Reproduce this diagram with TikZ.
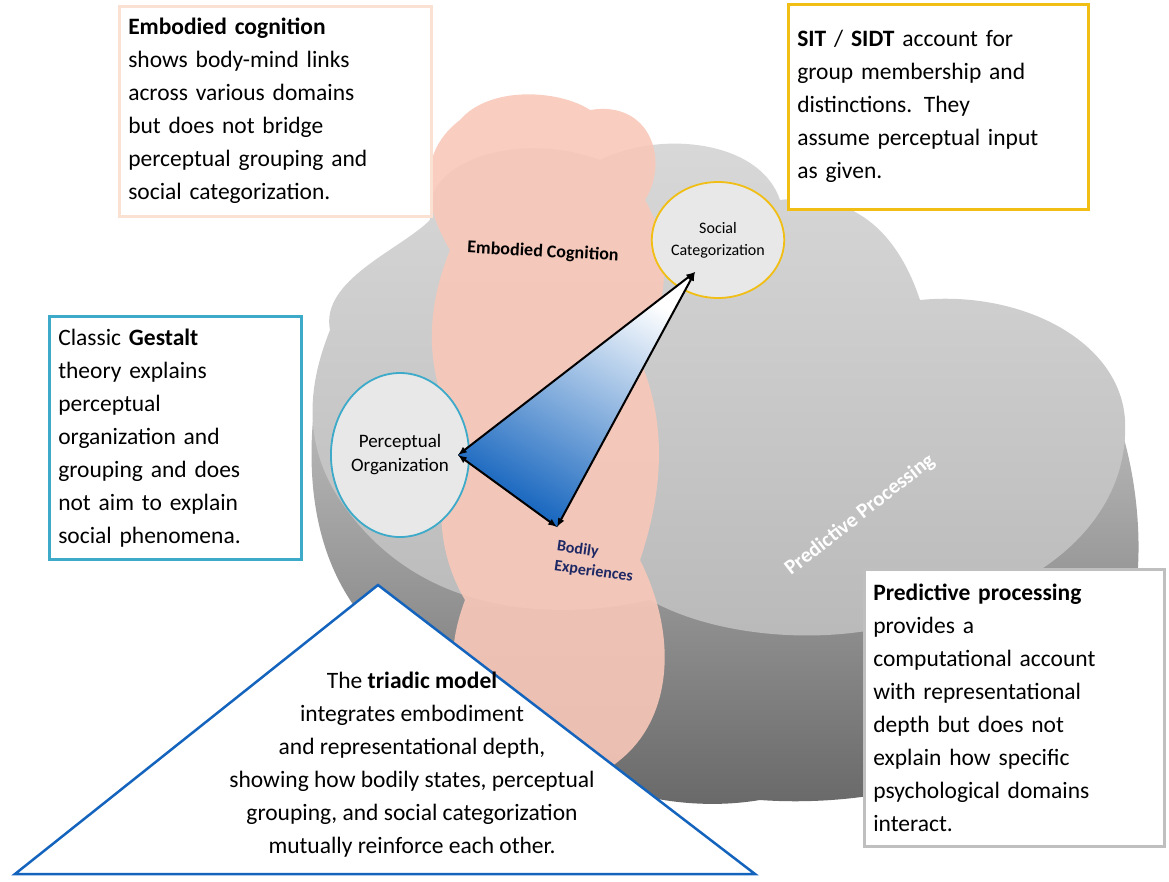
\documentclass[tikz,border=0pt]{standalone}
\usepackage{fontspec}
\setmainfont{Carlito}
\usetikzlibrary{shapes.geometric}
\definecolor{peach}{RGB}{250,225,210}
\definecolor{gold}{RGB}{240,190,20}
\definecolor{teal}{RGB}{60,170,200}
\definecolor{tribl}{RGB}{20,100,190}
\definecolor{pinkc}{RGB}{248,200,185}
\definecolor{navy}{RGB}{30,40,100}
\tikzset{
  box/.style={draw, line width=2.5pt, fill=white, align=left, inner sep=9pt, anchor=north west, font=\fontsize{23.5}{33}\selectfont},
  circ/.style={ellipse, draw, line width=1.8pt, fill=gray!18, align=center, inner sep=0pt, font=\fontsize{16}{22}\selectfont},
  link/.style={latex-latex, line width=2pt}
}
\begin{document}
\begin{tikzpicture}[x=1pt, y=-1pt]
\useasboundingbox (0,0) rectangle (1169,881);

% slab side and top of the gray blob
\shade[top color=gray!45, bottom color=gray!80!black]
  (315,400) .. controls (300,520) and (330,640) .. (470,690)
  .. controls (520,760) and (640,820) .. (760,800)
  .. controls (900,810) and (1060,760) .. (1120,650)
  .. controls (1160,560) and (1130,400) .. (1080,350)
  -- cycle;
\shade[top color=gray!30, bottom color=gray!55]
  (330,330) .. controls (320,280) and (400,250) .. (430,220)
  .. controls (420,160) and (520,130) .. (600,160)
  .. controls (660,130) and (760,140) .. (780,200)
  .. controls (860,190) and (900,240) .. (920,300)
  .. controls (1020,290) and (1120,340) .. (1125,420)
  .. controls (1130,520) and (1040,590) .. (940,610)
  .. controls (850,650) and (720,640) .. (650,600)
  .. controls (560,620) and (420,620) .. (340,500)
  .. controls (300,440) and (310,380) .. (330,330) -- cycle;

% pink cloud
\fill[pinkc, opacity=0.9]
  (460,120) .. controls (490,85) and (560,90) .. (590,110)
  .. controls (650,100) and (670,160) .. (645,200)
  .. controls (680,260) and (660,320) .. (640,360)
  .. controls (670,430) and (660,500) .. (640,560)
  .. controls (680,640) and (670,720) .. (620,760)
  .. controls (580,795) and (510,790) .. (490,745)
  .. controls (440,700) and (450,640) .. (465,600)
  .. controls (430,540) and (440,480) .. (455,430)
  .. controls (420,360) and (430,300) .. (450,250)
  .. controls (420,200) and (420,150) .. (460,120) -- cycle;

\node[font=\fontsize{18}{20}\selectfont\bfseries, rotate=-3] (ec) at (543,252) {Embodied Cognition};
\node[font=\fontsize{21}{24}\selectfont\bfseries, text=white, rotate=38] (pp) at (860,515) {Predictive Processing};
\node[font=\fontsize{16}{20}\selectfont\bfseries, text=navy, align=left, rotate=-8] (be) at (595,562) {Bodily\\Experiences};

\node[circ, draw=gold, minimum width=80pt, minimum height=116pt] (sc) at (718,240) {Social\\Categorization};
\node[circ, draw=teal, minimum width=120pt, minimum height=164pt, font=\fontsize{19}{24}\selectfont] (po) at (400,455) {Perceptual\\Organization};

\coordinate (a) at (458,455);
\coordinate (b) at (695,272);
\coordinate (c) at (557,527);
\shade[top color=white, bottom color=tribl, shading angle=-30] (a) -- (b) -- (c) -- cycle;
\draw[link] (a) -- (b);
\draw[link] (b) -- (c);
\draw[link] (c) -- (a);

% text boxes
\node[box, draw=peach, text width=294pt, minimum height=210pt] (bec) at (118,5)
  {\textbf{Embodied cognition}\\shows body-mind links\\across various domains\\but does not bridge\\perceptual grouping and\\social categorization.};
\node[box, draw=gold, text width=282pt, minimum height=205pt] (bsit) at (787,3)
  {\textbf{SIT} / \textbf{SIDT} account for\\group membership and\\distinctions. They\\assume perceptual input\\as given.};
\node[box, draw=teal, text width=234pt, minimum height=243pt] (bge) at (48,315)
  {Classic \textbf{Gestalt}\\theory explains\\perceptual\\organization and\\grouping and does\\not aim to explain\\social phenomena.};
\node[box, draw=gray!50, text width=282pt, minimum height=277pt] (bpp) at (863,568)
  {\textbf{Predictive processing}\\provides a\\computational account\\with representational\\depth but does not\\explain how specific\\psychological domains\\interact.};

\draw[tribl, line width=2.5pt, fill=white] (15,874) -- (378,585) -- (755,874) -- cycle;
\node[align=center, font=\fontsize{23.5}{33}\selectfont] (tri) at (412,765)
  {The \textbf{triadic model}\\integrates embodiment\\and representational depth,\\showing how bodily states, perceptual\\grouping, and social categorization\\mutually reinforce each other.};
\end{tikzpicture}
\end{document}
